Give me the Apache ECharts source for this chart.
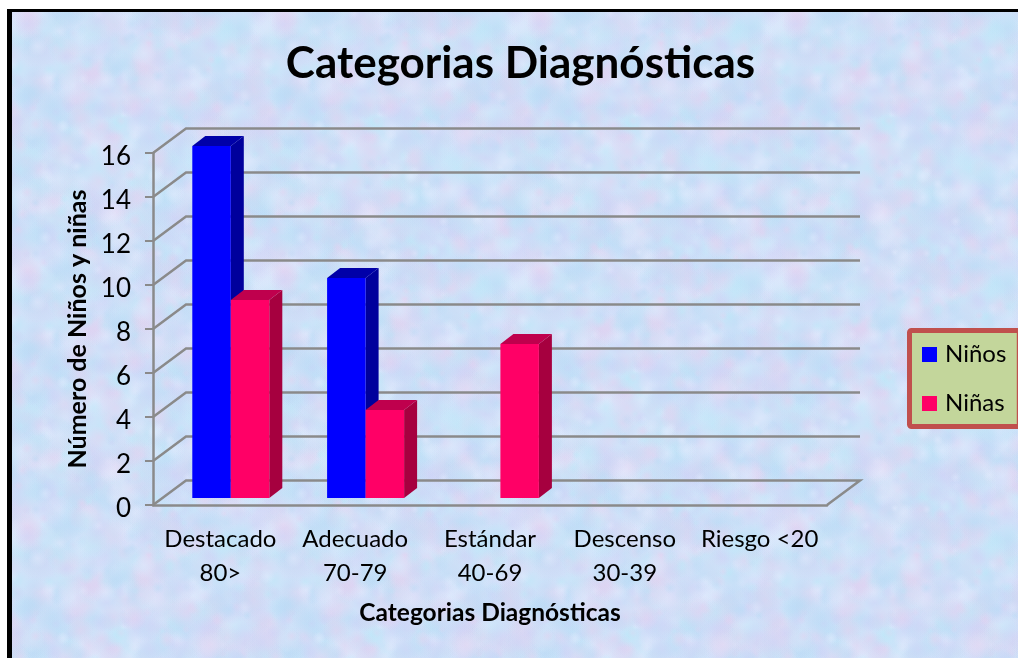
<!DOCTYPE html>
<html>
<head>
<meta charset="utf-8">
<title>Categorias Diagnósticas</title>
<script src="https://cdn.jsdelivr.net/npm/echarts@6/dist/echarts.min.js"></script>
<style>
    html, body { margin: 0; padding: 0; background: #fff; overflow: hidden; }
    #frame { position: absolute; left: 7px; top: 9px; width: 1011px; height: 649px; box-sizing: border-box;
             border-left: 5px solid #000; border-top: 3px solid #000; }
    #main { position: absolute; left: 0; top: 0; width: 1018px; height: 658px; }
</style>
</head>
<body>
<div id="frame"></div>
<div id="main"></div>
<script>
    var categories = ['Destacado\n80>', 'Adecuado\n70-79', 'Estándar\n40-69', 'Descenso\n30-39', 'Riesgo <20'];
    var ninos = [16, 10, 0, 0, 0];
    var ninas = [9, 4, 7, 0, 0];
    var yTicks = [0, 2, 4, 6, 8, 10, 12, 14, 16];

    var WALL_X = 33, WALL_Y = 24.5;     // fake 3d, wall depth
    var FLOOR_X = 10.4, FLOOR_Y = 7;    // bars stand a bit behind the front edge
    var SIDE_X = 13, SIDE_Y = 10;       // depth of a bar
    var BAR_W = 38.5;
    var AXIS_COLOR = '#8a8a8a';

    // soft marbled tile for the background
    function makeTexture() {
        var size = 256, c = document.createElement('canvas');
        c.width = c.height = size;
        var ctx = c.getContext('2d');
        ctx.fillStyle = '#d0e2f9';
        ctx.fillRect(0, 0, size, size);
        var seed = 12345;
        function rnd() {
            seed = (seed * 1103515245 + 12345) & 0x7fffffff;
            return seed / 0x7fffffff;
        }
        var colors = ['228,210,240', '190,232,248', '206,210,246', '228,236,254', '186,220,246', '204,220,244'];
        for (var i = 0; i < 900; i++) {
            var x = rnd() * size, y = rnd() * size, r = 4 + rnd() * 16;
            var col = colors[Math.floor(rnd() * colors.length)];
            for (var dx = -size; dx <= size; dx += size) {
                for (var dy = -size; dy <= size; dy += size) {
                    var g = ctx.createRadialGradient(x + dx, y + dy, 0, x + dx, y + dy, r);
                    g.addColorStop(0, 'rgba(' + col + ',0.5)');
                    g.addColorStop(1, 'rgba(' + col + ',0)');
                    ctx.fillStyle = g;
                    ctx.fillRect(x + dx - r, y + dy - r, r * 2, r * 2);
                }
            }
        }
        return c.toDataURL();
    }
    document.getElementById('frame').style.background = 'url(' + makeTexture() + ')';

    function renderWall(params, api) {
        var cs = params.coordSys;
        var v = api.value(1);
        var y = api.coord([0, v])[1];
        var left = cs.x, right = cs.x + cs.width;
        var pts = [[left, y], [left + WALL_X, y - WALL_Y], [right + WALL_X, y - WALL_Y]];
        if (v === 0) {
            pts.push([right, y]);
        }
        return {
            type: 'polyline',
            shape: { points: pts },
            style: { fill: null, stroke: AXIS_COLOR, lineWidth: 2.5 }
        };
    }

    function barRenderer(slot, front, top, side) {
        return function (params, api) {
            var v = api.value(1);
            if (!v) {
                return null;
            }
            var base = api.coord([api.value(0), 0]);
            var head = api.coord([api.value(0), v]);
            var x0 = base[0] + FLOOR_X + (slot - 1) * BAR_W;
            var x1 = x0 + BAR_W;
            var y0 = base[1] - FLOOR_Y;
            var y1 = head[1] - FLOOR_Y;
            return {
                type: 'group',
                children: [{
                    type: 'polygon',
                    shape: { points: [[x1, y0], [x1 + SIDE_X, y0 - SIDE_Y], [x1 + SIDE_X, y1 - SIDE_Y], [x1, y1]] },
                    style: { fill: side }
                }, {
                    type: 'polygon',
                    shape: { points: [[x0, y1], [x0 + SIDE_X, y1 - SIDE_Y], [x1 + SIDE_X, y1 - SIDE_Y], [x1, y1]] },
                    style: { fill: top }
                }, {
                    type: 'rect',
                    shape: { x: x0, y: y1, width: BAR_W, height: y0 - y1 },
                    style: { fill: front }
                }]
            };
        };
    }

    function pairs(values) {
        return values.map(function (v, i) { return [i, v]; });
    }

    var myChart = echarts.init(document.getElementById('main'), null, { renderer: 'canvas' });
    myChart.setOption({
        animation: false,
        backgroundColor: 'transparent',
        textStyle: { fontFamily: 'Lato', color: '#000' },
        title: {
            text: 'Categorias Diagnósticas',
            left: 515.5,
            top: 37,
            textAlign: 'center',
            textStyle: { fontFamily: 'Lato', fontSize: 44, fontWeight: 'bold', color: '#000' }
        },
        legend: {
            left: 909.5,
            top: 330.5,
            orient: 'vertical',
            data: ['Niños', 'Niñas'],
            icon: 'rect',
            itemWidth: 15,
            itemHeight: 15,
            itemGap: 25,
            padding: [12, 13, 11, 12.5],
            backgroundColor: '#c3d69b',
            borderColor: '#c0504d',
            borderWidth: 5,
            borderRadius: 2,
            textStyle: { fontFamily: 'Lato', fontSize: 24, lineHeight: 24, color: '#000', padding: [0, 0, 0, 3] }
        },
        grid: { left: 153, right: 191, top: 153, bottom: 153 },
        xAxis: {
            type: 'category',
            data: categories,
            name: 'Categorias Diagnósticas',
            nameLocation: 'middle',
            nameGap: 96,
            nameTextStyle: { fontFamily: 'Lato', fontSize: 24.5, fontWeight: 'bold', color: '#000' },
            axisLine: { lineStyle: { color: AXIS_COLOR, width: 2.5 } },
            axisTick: { show: false },
            axisLabel: { fontFamily: 'Lato', fontSize: 24, color: '#000', lineHeight: 34, margin: 17, interval: 0 },
            splitLine: { show: false }
        },
        yAxis: {
            type: 'value',
            min: 0,
            max: 16,
            interval: 2,
            name: 'Número de Niños y niñas',
            nameLocation: 'middle',
            nameGap: 63,
            nameTextStyle: { fontFamily: 'Lato', fontSize: 25, fontWeight: 'bold', color: '#000' },
            axisLine: { show: true, lineStyle: { color: AXIS_COLOR, width: 2.5 } },
            axisTick: { show: true, length: 8, lineStyle: { color: AXIS_COLOR, width: 2 } },
            axisLabel: {
                formatter: '{v|{value}}',
                margin: 22,
                rich: { v: { fontFamily: 'Lato', fontSize: 26, color: '#000', padding: [8, 0, 0, 0] } }
            },
            splitLine: { show: false }
        },
        series: [{
            type: 'custom',
            silent: true,
            renderItem: renderWall,
            encode: { x: 0, y: 1 },
            data: yTicks.map(function (t) { return [0, t]; })
        }, {
            name: 'Niños',
            type: 'custom',
            renderItem: barRenderer(0, '#0000ff', '#0000a8', '#00009c'),
            itemStyle: { color: '#0000ff' },
            encode: { x: 0, y: 1 },
            data: pairs(ninos)
        }, {
            name: 'Niñas',
            type: 'custom',
            renderItem: barRenderer(1, '#ff0066', '#bf004d', '#a6003f'),
            itemStyle: { color: '#ff0066' },
            encode: { x: 0, y: 1 },
            data: pairs(ninas)
        }]
    });
</script>
</body>
</html>
